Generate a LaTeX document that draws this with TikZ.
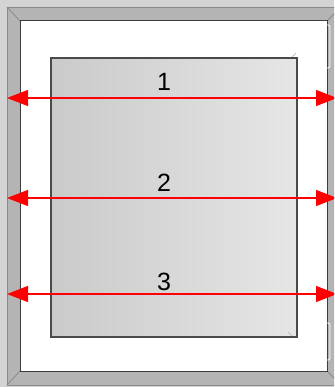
\documentclass[tikz,border=0pt]{standalone}
\usepackage{fontspec}
\setmainfont{Liberation Sans}
\usetikzlibrary{arrows.meta}
\definecolor{bg}{HTML}{D4D4D4}
\definecolor{framegray}{HTML}{B4B4B4}
\definecolor{frameline}{HTML}{8A8A8A}
\definecolor{darkline}{HTML}{3C3C3C}
\definecolor{panelline}{HTML}{4A4A4A}
\definecolor{panelL}{HTML}{CACACA}
\definecolor{panelR}{HTML}{E6E6E6}
\tikzset{
  dimarrow/.style={draw=red, line width=1.3pt, {Triangle[length=21pt,width=16pt]}-{Triangle[length=21pt,width=16pt]}},
  numlabel/.style={font=\fontsize{25}{25}\selectfont, text=black, inner sep=0pt},
  hinge/.style={draw=white, line width=0.8pt, rounded corners=1.5pt}
}
\begin{document}
\begin{tikzpicture}[x=1pt,y=-1pt]
\useasboundingbox (0,0) rectangle (334,387);
\fill[bg] (0,0) rectangle (334,387);
% outer frame
\begin{scope}
\clip (0,0) rectangle (334,387);
\filldraw[fill=framegray, draw=frameline, line width=0.8pt] (7,7) rectangle (342,385);
\draw[frameline, line width=0.8pt] (7,7) -- (20,21);
\draw[frameline, line width=0.8pt] (7,385) -- (20,371);
\draw[frameline, line width=0.8pt] (327,21) -- (341,7);
\draw[frameline, line width=0.8pt] (327,371) -- (341,385);
\fill[white] (20,21) rectangle (327,371);
\draw[darkline, line width=1pt] (20,21) rectangle (327,371);
% hinges
\draw[hinge] (327,25) -- (330,25) -- (330,68) -- (327,68);
\draw[hinge] (327,323) -- (330,323) -- (330,360) -- (327,360);
\end{scope}
% panel
\node[draw=panelline, line width=1.6pt, left color=panelL, right color=panelR,
  minimum width=246pt, minimum height=279pt, inner sep=0pt, anchor=north west] (panel) at (50,57) {};
\draw[gray!60, line width=0.6pt] (292,57) -- (296,53);
\draw[gray!60, line width=0.6pt] (292,336) -- (288,332);
% arrow endpoints
\coordinate (l1) at (7,98);  \coordinate (r1) at (337,98);
\coordinate (l2) at (7,198); \coordinate (r2) at (337,198);
\coordinate (l3) at (7,294); \coordinate (r3) at (337,294);
\begin{scope}
\clip (0,0) rectangle (334,387);
\draw[dimarrow] (l1) -- (r1);
\draw[dimarrow] (l2) -- (r2);
\draw[dimarrow] (l3) -- (r3);
\end{scope}
% labels
\node[numlabel] (n1) at (164,82) {1};
\node[numlabel] (n2) at (164,183) {2};
\node[numlabel] (n3) at (164,282) {3};
\end{tikzpicture}
\end{document}
